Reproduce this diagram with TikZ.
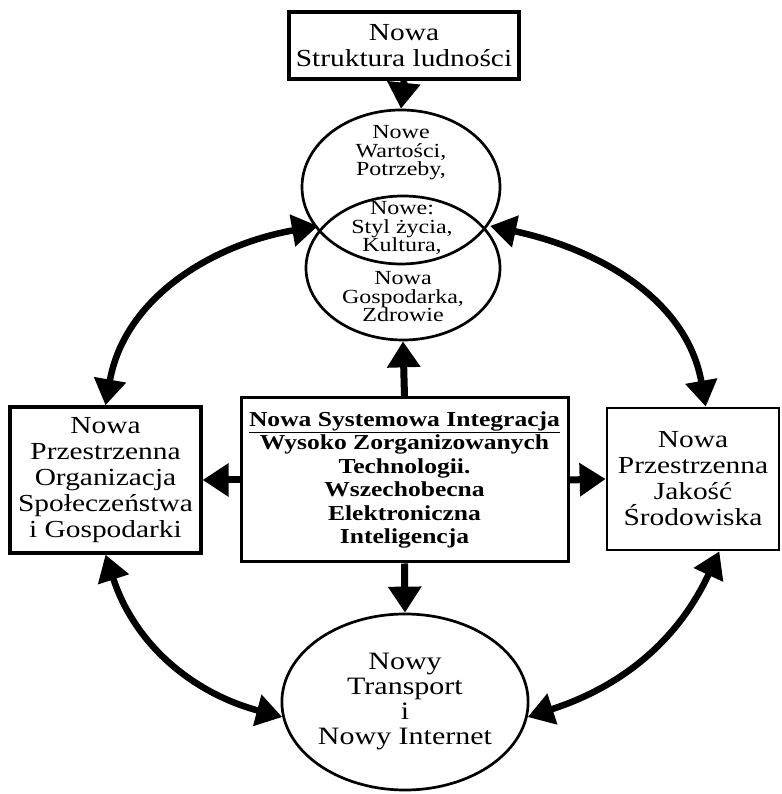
\documentclass[tikz,border=0pt]{standalone}
\usepackage{fontspec}
\setmainfont[FakeStretch=1.2]{Liberation Serif}
\usetikzlibrary{arrows.meta,shapes.geometric}
\tikzset{
  rect_box/.style={draw,line width=3.3pt,align=center,inner sep=0pt,
    font=\fontsize{24.5}{26}\selectfont},
  core_box/.style={draw,line width=3pt,align=center,inner sep=0pt,
    font=\fontsize{21.3}{23.5}\selectfont\bfseries},
  ell_node/.style={draw,ellipse,line width=2.7pt,inner sep=0pt,align=center},
  ell_txt/.style={align=center,inner sep=0pt,font=\fontsize{20}{18.5}\selectfont},
  arr/.style={-{Triangle[length=26pt,width=32pt]},line width=7pt},
  arr_both/.style={{Triangle[length=26pt,width=31pt]}-{Triangle[length=26pt,width=31pt]},line width=6.5pt},
}
\begin{document}
\begin{tikzpicture}[x=1pt,y=1pt]
    \useasboundingbox (0,0) rectangle (781,794);
    \node[rect_box,line width=4pt,minimum width=230pt,minimum height=67pt] (pop) at (404,748.5) {Nowa\\Struktura ludności};
    \node[ell_node,minimum width=198pt,minimum height=154pt] (vals) at (401,607) {};
    \node[ell_node,minimum width=194pt,minimum height=144pt] (econ) at (403,526) {};
    \node[ell_txt] (valtxt) at (401,641) {Nowe\\Wartości,\\Potrzeby,};
    \node[ell_txt] (lifetxt) at (402,566) {Nowe:\\Styl życia,\\Kultura,};
    \node[ell_txt] (ecotxt) at (403,497) {Nowa\\Gospodarka,\\Zdrowie};
    \node[core_box,minimum width=327pt,minimum height=164pt] (integ) at (404.5,314) {\underline{Nowa Systemowa Integracja}\\Wysoko Zorganizowanych\\Technologii.\\Wszechobecna\\Elektroniczna\\Inteligencja};
    \node[rect_box,minimum width=191pt,minimum height=146pt] (org) at (105.5,314) {Nowa\\Przestrzenna\\Organizacja\\Społeczeństwa\\i Gospodarki};
    \node[rect_box,line width=2.7pt,minimum width=172pt,minimum height=142pt] (env) at (693,315) {Nowa\\Przestrzenna\\Jakość\\Środowiska};
    \node[ell_node,minimum width=230pt,minimum height=176pt,font=\fontsize{25}{25}\selectfont] (trans) at (405,92) {Nowy\\Transport\\i\\Nowy Internet};
    \coordinate (ixL) at (318,568);
    \coordinate (ixR) at (490,568);
    \draw[arr](pop.south)--(vals.north);
    \draw[arr](integ.north)--(econ.south);
    \draw[arr](integ.west)--(org.east);
    \draw[arr](integ.east)--(env.west);
    \draw[arr](integ.south)--(trans.north);
    \draw[arr_both](org.north) to[out=80,in=190] (ixL);
    \draw[arr_both](env.80) to[out=100,in=-12] (ixR);
    \draw[arr_both](org.south) to[out=-72,in=165] (trans.187);
    \draw[arr_both](env.-70) to[out=-115,in=18] (trans.-7);
  \end{tikzpicture}
\end{document}
